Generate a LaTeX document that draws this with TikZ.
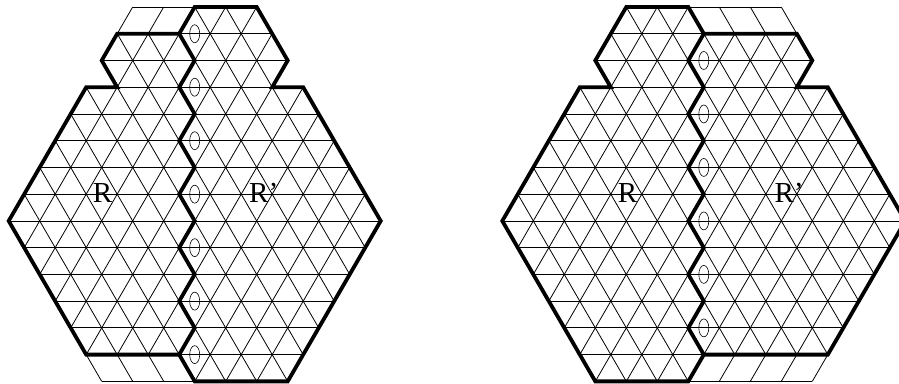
\documentclass[tikz,border=0pt]{standalone}
\usepackage{fontspec}
\setmainfont{Liberation Serif}
\tikzset{
  thinline/.style={line width=0.8pt,black},
  thickline/.style={line width=3.8pt,black,line join=miter,miter limit=4},
  holes/.style={line width=0.6pt,black,x radius=5pt,y radius=9pt},
  lab/.style={font=\fontsize{29}{29}\selectfont,inner sep=0pt,anchor=base},
  lattice/.style={x=15.5pt,y=-26.74pt}
}
\newcommand{\latticelines}{%
  \foreach \j in {0,...,14} {\draw[thinline] (-30,\j) -- (30,\j);}
  \foreach \a in {-30,-28,...,30} {
    \draw[thinline] (\a,0) -- ++(14,14);
    \draw[thinline] (\a,0) -- ++(-14,14);
  }%
}
\begin{document}
\begin{tikzpicture}[x=1pt,y=-1pt]
\useasboundingbox (0,0) rectangle (899,383);
% left figure
\begin{scope}[shift={(194.7,7)},lattice]
  \begin{scope}
    \clip (0,0) -- (4,0) -- (6,2) -- (5,3) -- (7,3) -- (12,8) -- (6,14) -- (0,14) -- (-1,13) -- (-7,13) -- (-12,8) -- (-7,3) -- (-5,3) -- (-6,2) -- (-5,1) -- (-1,1) -- cycle;
    \latticelines
  \end{scope}
  % extra cells
  \draw[thinline] (-4,0) -- (0,0);
  \draw[thinline] (-6,14) -- (0,14);
  \foreach \a in {-5,-3} {\draw[thinline] (\a,1) -- ++(1,-1);}
  \foreach \a in {-7,-5,-3} {\draw[thinline] (\a,13) -- ++(1,1);}
  % holes
  \foreach \j in {1,3,...,13} {\draw[holes] (0,\j) ellipse [];}
  % outlines
  \draw[thickline] (-1,1) -- (-5,1) -- (-6,2) -- (-5,3) -- (-7,3) -- (-12,8) -- (-7,13) -- (-1,13)
     -- (0,12) -- (-1,11) -- (0,10) -- (-1,9) -- (0,8) -- (-1,7) -- (0,6) -- (-1,5) -- (0,4) -- (-1,3) -- (0,2) -- cycle;
  \draw[thickline] (-1,1) -- (0,0) -- (4,0) -- (6,2) -- (5,3) -- (7,3) -- (12,8) -- (6,14) -- (0,14) -- (-1,13);
\end{scope}
\node[lab] (rl) at (102.5,202.5) {R};
\node[lab] (rpl) at (263.7,202.5) {R'};
% right figure
\begin{scope}[shift={(688.3,7)},lattice]
  \begin{scope}
    \clip (-4,0) -- (0,0) -- (1,1) -- (7,1) -- (8,2) -- (7,3) -- (9,3) -- (14,8) -- (9,13) -- (1,13) -- (0,14) -- (-6,14) -- (-12,8) -- (-7,3) -- (-5,3) -- (-6,2) -- cycle;
    \latticelines
  \end{scope}
  % extra cells
  \draw[thinline] (0,0) -- (6,0);
  \draw[thinline] (0,14) -- (8,14);
  \foreach \a in {2,4,6} {\draw[thinline] (\a,0) -- ++(1,1);}
  \foreach \a in {3,5,7,9} {\draw[thinline] (\a,13) -- ++(-1,1);}
  % holes
  \foreach \j in {2,4,...,12} {\draw[holes] (1,\j) ellipse [];}
  % outlines
  \draw[thickline] (1,1) -- (0,0) -- (-4,0) -- (-6,2) -- (-5,3) -- (-7,3) -- (-12,8) -- (-6,14) -- (0,14) -- (1,13)
     -- (0,12) -- (1,11) -- (0,10) -- (1,9) -- (0,8) -- (1,7) -- (0,6) -- (1,5) -- (0,4) -- (1,3) -- (0,2) -- cycle;
  \draw[thickline] (1,1) -- (7,1) -- (8,2) -- (7,3) -- (9,3) -- (14,8) -- (9,13) -- (1,13);
\end{scope}
\node[lab] (rr) at (627.5,202.5) {R};
\node[lab] (rpr) at (789,202.5) {R'};
\end{tikzpicture}
\end{document}
